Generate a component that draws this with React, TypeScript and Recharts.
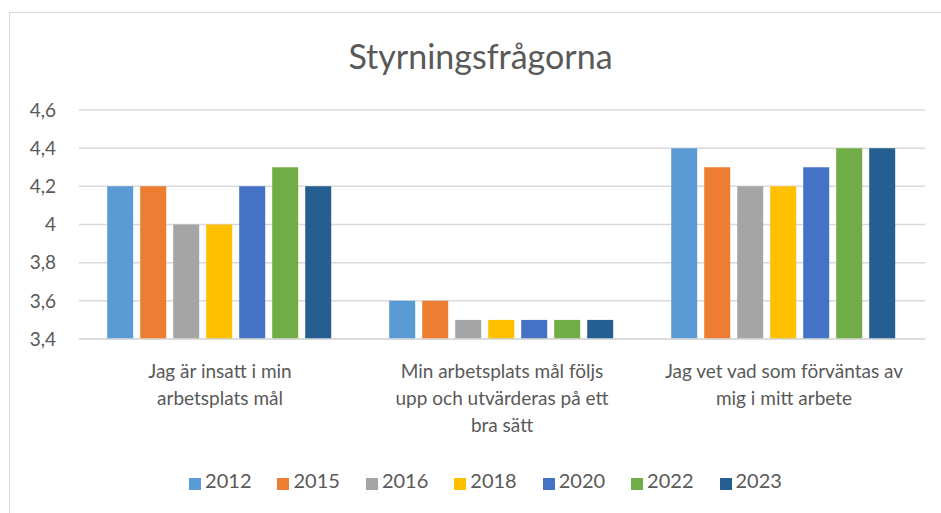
import { BarChart, Bar, XAxis, YAxis, CartesianGrid, Legend } from "recharts";

const CATEGORIES = [
  "Jag är insatt i min arbetsplats mål",
  "Min arbetsplats mål följs upp och utvärderas på ett bra sätt",
  "Jag vet vad som förväntas av mig i mitt arbete",
];

const YEARS = ["2012", "2015", "2016", "2018", "2020", "2022", "2023"];

const V2012 = [4.2, 3.6, 4.4];
const V2015 = [4.2, 3.6, 4.3];
const V2016 = [4.0, 3.5, 4.2];
const V2018 = [4.0, 3.5, 4.2];
const V2020 = [4.2, 3.5, 4.3];
const V2022 = [4.3, 3.5, 4.4];
const V2023 = [4.2, 3.5, 4.4];

const Y_TICKS = [3.4, 3.6, 3.8, 4.0, 4.2, 4.4, 4.6];

const COLORS = ["#5B9BD5", "#ED7D31", "#A5A5A5", "#FFC000", "#4472C4", "#70AD47", "#255E91"];

const SERIES = [V2012, V2015, V2016, V2018, V2020, V2022, V2023];

const data = CATEGORIES.map((name, i) => {
  const row: Record<string, string | number> = { name };
  YEARS.forEach((y, j) => {
    row[y] = SERIES[j][i];
  });
  return row;
});

const FONT = "Lato, 'Open Sans', sans-serif";
const TEXT = "#595959";

// simple word wrap, about 28 characters a line
function wrap(label: string, max = 28) {
  const lines: string[] = [];
  let cur = "";
  label.split(" ").forEach((w) => {
    const next = cur ? cur + " " + w : w;
    if (next.length > max && cur) {
      lines.push(cur);
      cur = w;
    } else {
      cur = next;
    }
  });
  if (cur) lines.push(cur);
  return lines;
}

function CategoryTick(props: any) {
  const { x, y, payload } = props;
  const lines = wrap(payload.value);
  return (
    <text x={x} y={y} textAnchor="middle" fill={TEXT} fontSize={19} fontFamily={FONT}>
      {lines.map((l, i) => (
        <tspan key={i} x={x} dy={i === 0 ? 37 : 27}>
          {l}
        </tspan>
      ))}
    </text>
  );
}

const fmt = (v: number) => (Math.round(v * 10) / 10).toString().replace(".", ",");

export default function App() {
  return (
    <div style={{ position: "absolute", left: 0, top: 0, width: 941, height: 513, background: "#fff", overflow: "hidden", fontFamily: FONT }}>
      <div
        style={{
          position: "absolute",
          left: 9,
          top: 12,
          width: 960,
          height: 540,
          border: "1px solid #d9d9d9",
        }}
      />
      <div
        style={{
          position: "absolute",
          left: 0,
          top: 36,
          width: 961,
          textAlign: "center",
          fontSize: 34,
          color: TEXT,
          lineHeight: "40px",
        }}
      >
        Styrningsfrågorna
      </div>
      <div style={{ position: "absolute", left: 0, top: 0 }}>
        <BarChart
          width={941}
          height={513}
          data={data}
          margin={{ top: 110, right: 16, left: 0, bottom: 21 }}
          barCategoryGap="10%"
          barGap={7}
        >
          <CartesianGrid vertical={false} stroke="#d9d9d9" strokeWidth={1.5} />
          <XAxis
            dataKey="name"
            axisLine={{ stroke: "#d9d9d9", strokeWidth: 1.5 }}
            tickLine={false}
            tickSize={0}
            tick={<CategoryTick />}
            interval={0}
            height={129}
          />
          <YAxis
            domain={[3.4, 4.6]}
            ticks={Y_TICKS}
            tickFormatter={fmt}
            axisLine={false}
            tickLine={false}
            tickSize={0}
            tickMargin={23}
            width={79}
            tick={{ fill: TEXT, fontSize: 19, fontFamily: FONT }}
            allowDataOverflow
          />
          <Legend
            verticalAlign="bottom"
            iconType="square"
            iconSize={12}
            wrapperStyle={{ left: 36 }}
            formatter={(v) => <span style={{ color: TEXT, fontSize: 20, fontFamily: FONT, marginRight: 16 }}>{v}</span>}
          />
          {YEARS.map((y, j) => (
            <Bar key={y} dataKey={y} fill={COLORS[j]} isAnimationActive={false} />
          ))}
        </BarChart>
      </div>
    </div>
  );
}
